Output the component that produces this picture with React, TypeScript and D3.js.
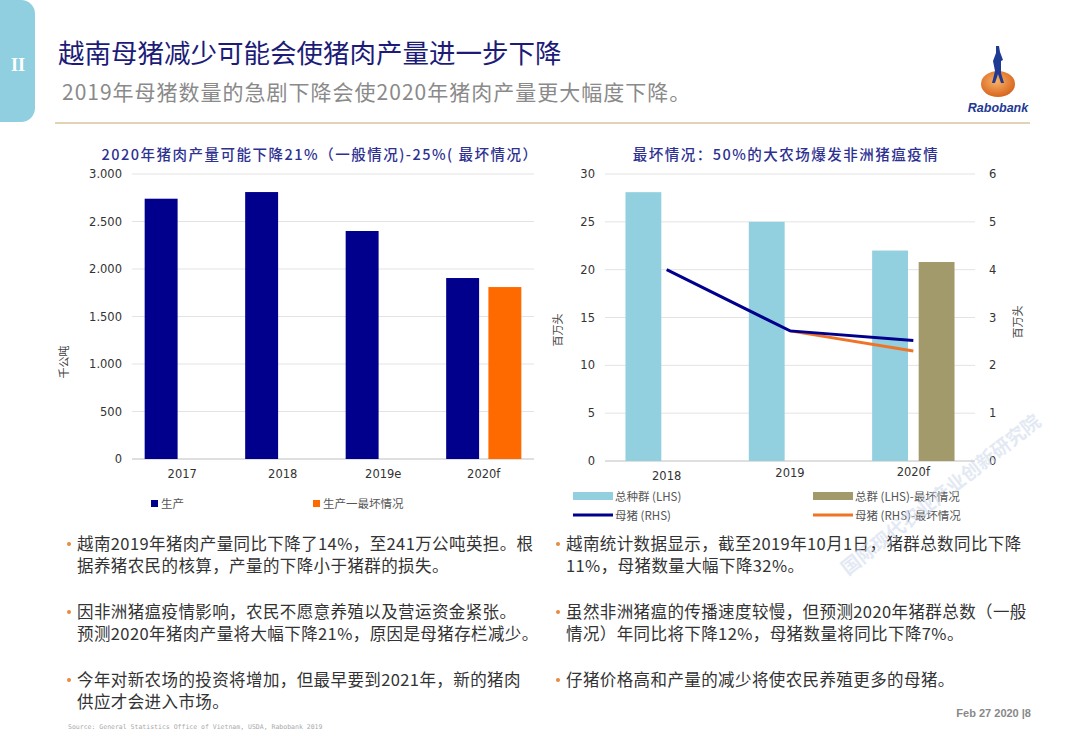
import * as d3 from 'd3';

// left chart: pork production (thousand tonnes)
const porkYears = ['2017', '2018', '2019e', '2020f'];
const porkBase = [2740, 2810, 2400, 1905];
const porkWorst = [null, null, null, 1810];
const porkTicks = [0, 500, 1000, 1500, 2000, 2500, 3000];

// right chart: herd (LHS, million head) and sows (RHS, million head)
const herdYears = ['2018', '2019', '2020f'];
const herdTotal = [28.1, 25.0, 22.0];
const herdWorst = [null, null, 20.8];
const sows = [4.0, 2.72, 2.52];
const sowsWorst = [null, 2.72, 2.3];
const herdTicks = [0, 5, 10, 15, 20, 25, 30];
const sowTicks = [0, 1, 2, 3, 4, 5, 6];

const leftBullets = [
  ['越南2019年猪肉产量同比下降了14%，至241万公吨英担。根', '据养猪农民的核算，产量的下降小于猪群的损失。'],
  ['因非洲猪瘟疫情影响，农民不愿意养殖以及营运资金紧张。', '预测2020年猪肉产量将大幅下降21%，原因是母猪存栏减少。'],
  ['今年对新农场的投资将增加，但最早要到2021年，新的猪肉', '供应才会进入市场。'],
];
const rightBullets = [
  ['越南统计数据显示，截至2019年10月1日，猪群总数同比下降', '11%，母猪数量大幅下降32%。'],
  ['虽然非洲猪瘟的传播速度较慢，但预测2020年猪群总数（一般', '情况）年同比将下降12%，母猪数量将同比下降7%。'],
  ['仔猪价格高和产量的减少将使农民养殖更多的母猪。'],
];

const NAVY = '#00008c';
const ORANGE = '#ff6a00';
const LIGHTBLUE = '#92cfdf';
const OLIVE = '#a39a6c';
const CJK = '"Noto Sans CJK SC", sans-serif';
const AXIS = '"DejaVu Sans", Verdana, sans-serif';

const LeftChart = () => {
  const x = d3.scaleBand().domain(porkYears).range([132, 534]);
  const sub = d3.scaleBand().domain(['base', 'worst']).range([0, x.bandwidth()]).paddingInner(0.22).paddingOuter(0.3);
  const y = d3.scaleLinear().domain([0, 3000]).range([459, 174]);
  const fmt = (v: number) => d3.format(',')(v).replace(',', '.');
  return (
    <g>
      <text x={320} y={160} textAnchor="middle" fill="#2e3192" fontFamily={CJK} fontSize={14.5} fontWeight={500} letterSpacing={1.5}>
        2020年猪肉产量可能下降21%（一般情况)-25%( 最坏情况）
      </text>
      {porkTicks.map(t => (
        <g key={t}>
          <line x1={132} x2={534} y1={y(t)} y2={y(t)} stroke={t === 0 ? '#bfbfbf' : '#e3e3e3'} strokeWidth={1} />
          <text x={122} y={y(t) + 4} textAnchor="end" fontFamily={AXIS} fontSize={11.5} fill="#333">{fmt(t)}</text>
        </g>
      ))}
      {porkYears.map((yr, i) => (
        <g key={yr}>
          <rect x={x(yr)! + sub('base')!} y={y(porkBase[i])} width={sub.bandwidth()} height={y(0) - y(porkBase[i])} fill={NAVY} />
          {porkWorst[i] !== null && (
            <rect x={x(yr)! + sub('worst')!} y={y(porkWorst[i]!)} width={sub.bandwidth()} height={y(0) - y(porkWorst[i]!)} fill={ORANGE} />
          )}
          <text x={x(yr)! + x.bandwidth() / 2} y={478} textAnchor="middle" fontFamily={AXIS} fontSize={11.5} fill="#333">{yr}</text>
        </g>
      ))}
      <text transform="translate(68,362) rotate(-90)" textAnchor="middle" fontFamily={CJK} fontSize={11} fill="#444">千公吨</text>
      <rect x={151} y={500} width={7} height={7} fill={NAVY} />
      <text x={161} y={508} fontFamily={CJK} fontSize={11.5} fill="#555">生产</text>
      <rect x={313} y={500} width={7} height={7} fill={ORANGE} />
      <text x={323} y={508} fontFamily={CJK} fontSize={11.5} fill="#555">生产一最坏情况</text>
    </g>
  );
};

const RightChart = () => {
  const x = d3.scaleBand().domain(herdYears).range([605, 975]);
  const sub = d3.scaleBand().domain(['base', 'worst']).range([0, x.bandwidth()]).paddingInner(0.23).paddingOuter(0.44);
  const yL = d3.scaleLinear().domain([0, 30]).range([461, 174]);
  const yR = d3.scaleLinear().domain([0, 6]).range([461, 174]);
  const cx = (yr: string) => x(yr)! + x.bandwidth() / 2;
  const line = d3.line<[string, number | null]>()
    .defined(d => d[1] !== null)
    .x(d => cx(d[0]))
    .y(d => yR(d[1]!));
  const sowPts = herdYears.map((yr, i) => [yr, sows[i]] as [string, number | null]);
  const sowWorstPts = herdYears.map((yr, i) => [yr, sowsWorst[i]] as [string, number | null]);
  const xLabelY = [480, 477, 476];
  return (
    <g>
      <text x={786} y={160} textAnchor="middle" fill="#2e3192" fontFamily={CJK} fontSize={14.5} fontWeight={500} letterSpacing={1.5}>
        最坏情况：50%的大农场爆发非洲猪瘟疫情
      </text>
      {herdTicks.map((t, i) => (
        <g key={t}>
          <line x1={605} x2={975} y1={yL(t)} y2={yL(t)} stroke={t === 0 ? '#bfbfbf' : '#e3e3e3'} strokeWidth={1} />
          <text x={595} y={yL(t) + 4} textAnchor="end" fontFamily={AXIS} fontSize={11.5} fill="#333">{t}</text>
          <text x={989} y={yR(sowTicks[i]) + 4} textAnchor="start" fontFamily={AXIS} fontSize={11.5} fill="#333">{sowTicks[i]}</text>
        </g>
      ))}
      {herdYears.map((yr, i) => (
        <g key={yr}>
          <rect x={x(yr)! + sub('base')!} y={yL(herdTotal[i])} width={sub.bandwidth()} height={yL(0) - yL(herdTotal[i])} fill={LIGHTBLUE} />
          {herdWorst[i] !== null && (
            <rect x={x(yr)! + sub('worst')!} y={yL(herdWorst[i]!)} width={sub.bandwidth()} height={yL(0) - yL(herdWorst[i]!)} fill={OLIVE} />
          )}
          <text x={cx(yr)} y={xLabelY[i]} textAnchor="middle" fontFamily={AXIS} fontSize={11.5} fill="#333">{yr}</text>
        </g>
      ))}
      <path d={line(sowWorstPts)!} fill="none" stroke="#f07427" strokeWidth={3} />
      <path d={line(sowPts)!} fill="none" stroke={NAVY} strokeWidth={3} />
      <text transform="translate(562,330) rotate(-90)" textAnchor="middle" fontFamily={CJK} fontSize={11} fill="#444">百万头</text>
      <text transform="translate(1022,322) rotate(-90)" textAnchor="middle" fontFamily={CJK} fontSize={11} fill="#444">百万头</text>
      <rect x={573} y={492} width={40} height={8} fill={LIGHTBLUE} />
      <text x={615} y={501} fontFamily={CJK} fontSize={11.5} fill="#555">总种群 (LHS)</text>
      <line x1={573} x2={613} y1={515} y2={515} stroke={NAVY} strokeWidth={3} />
      <text x={615} y={520} fontFamily={CJK} fontSize={11.5} fill="#555">母猪 (RHS)</text>
      <rect x={813} y={492} width={40} height={8} fill={OLIVE} />
      <text x={855} y={501} fontFamily={CJK} fontSize={11.5} fill="#555">总群 (LHS)-最坏情况</text>
      <line x1={813} x2={853} y1={515} y2={515} stroke="#f07427" strokeWidth={3} />
      <text x={855} y={520} fontFamily={CJK} fontSize={11.5} fill="#555">母猪 (RHS)-最坏情况</text>
    </g>
  );
};

const Bullets = ({ items, x }: { items: string[][]; x: number }) => (
  <g>
    {items.map((lines, i) => {
      const top = 550 + i * 68;
      return (
        <g key={i}>
          <circle cx={x - 8} cy={top - 6} r={2} fill="#e88a3c" />
          {lines.map((ln, j) => (
            <text key={j} x={x} y={top + j * 22} fontFamily={CJK} fontSize={16.5} letterSpacing={0.4} fill="#333">{ln}</text>
          ))}
        </g>
      );
    })}
  </g>
);

const Header = () => (
  <g>
    <rect x={-20} y={0} width={55} height={122} rx={14} fill="#8fcfe0" />
    <text x={18} y={71} textAnchor="middle" fontFamily='"Liberation Serif", serif' fontWeight="bold" fontSize={18} fill="#fff">II</text>
    <text x={58} y={63} fontFamily={CJK} fontSize={26.5} fill="#1c1c78">越南母猪减少可能会使猪肉产量进一步下降</text>
    <text x={62} y={100} fontFamily={CJK} fontSize={21} letterSpacing={1} fill="#8a8a8a">2019年母猪数量的急剧下降会使2020年猪肉产量更大幅度下降。</text>
    <line x1={55} x2={1030} y1={123} y2={123} stroke="#e2d3b4" strokeWidth={2} />
    <defs>
      <radialGradient id="coin" cx="45%" cy="40%" r="60%">
        <stop offset="0%" stopColor="#f7b26a" />
        <stop offset="100%" stopColor="#d9651c" />
      </radialGradient>
    </defs>
    <ellipse cx={998} cy={84} rx={17} ry={13} fill="url(#coin)" />
    <path d="M996,46 l3,0 l1,6 l3,8 l-2,1 l0,12 l3,10 l-3,0 l-3,-9 l-3,9 l-3,0 l3,-12 l-2,-10 l3,-8 z" fill="#1f3a93" />
    <text x={998} y={112} textAnchor="middle" fontFamily='"Liberation Sans", Arial, sans-serif' fontStyle="italic" fontWeight="bold" fontSize={12.5} fill="#1f3a93">Rabobank</text>
  </g>
);

const App = () => (
  <svg width={1080} height={748} style={{ position: 'absolute', left: 0, top: 0, background: '#fff' }}>
    <rect width={1080} height={748} fill="#fff" />
    <Header />
    <LeftChart />
    <RightChart />
    <Bullets items={leftBullets} x={77} />
    <Bullets items={rightBullets} x={566} />
    <text transform="translate(945,500) rotate(-38)" fontFamily={CJK} fontSize={19} fontWeight="bold" fill="#c9d5ea" opacity={0.5} textAnchor="middle">国际现代农业产业创新研究院</text>
    <text x={68} y={729} fontFamily='"DejaVu Sans Mono", monospace' fontSize={6.5} fill="#aaa">Source: General Statistics Office of Vietnam, USDA, Rabobank 2019</text>
    <text x={1031} y={717} textAnchor="end" fontFamily='"Liberation Sans", Arial, sans-serif' fontWeight="bold" fontSize={11} fill="#888">Feb 27 2020 |8</text>
  </svg>
);

export default App;
